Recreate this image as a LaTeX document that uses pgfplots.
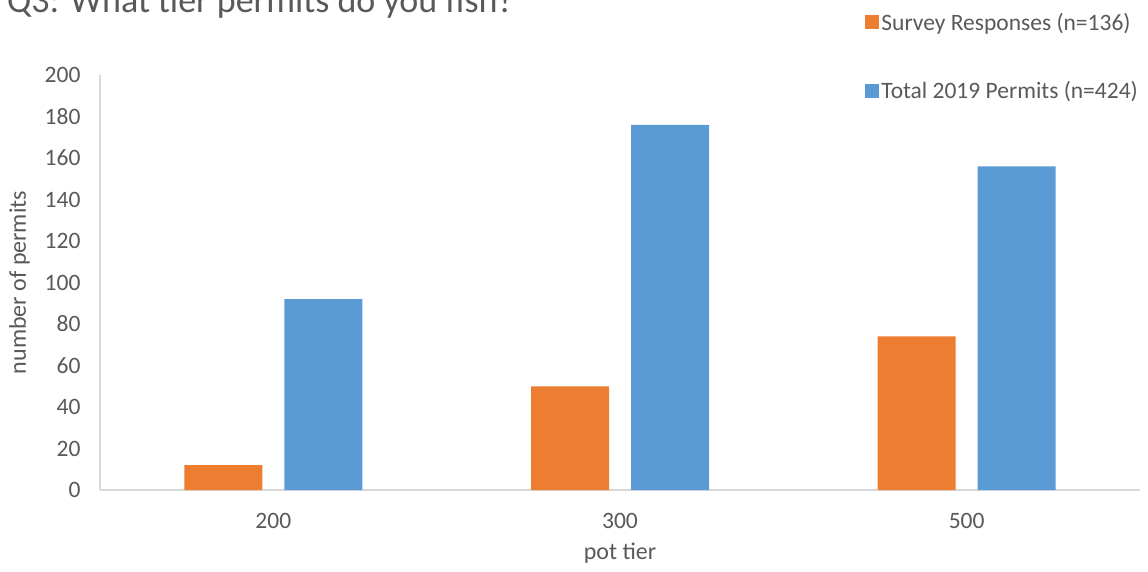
\documentclass[border=0pt]{standalone}
\usepackage{pgfplots}
\pgfplotsset{compat=1.18}
\usepackage{fontspec}
\setmainfont{Carlito}
\definecolor{corange}{HTML}{ED7D31}
\definecolor{cblue}{HTML}{5B9BD5}
\definecolor{ctext}{HTML}{595959}
\definecolor{caxis}{HTML}{D9D9D9}
\begin{document}
\begin{tikzpicture}
\clip (-100pt,-81pt) rectangle (1048pt,490pt);
\node[anchor=base west, text=ctext, font=\fontsize{36}{40}\selectfont, inner sep=0pt] at (-93pt,477pt) {Q3: What tier permits do you fish?};
\begin{axis}[
  at={(0pt,0pt)}, anchor=south west,
  scale only axis, width=1040pt, height=415pt,
  ybar=22pt, bar width=78pt,
  xmin=-0.5, xmax=2.5, ymin=0, ymax=200,
  xtick={0,1,2}, xticklabels={200,300,500},
  ytick={0,20,...,200},
  axis x line*=bottom, axis y line*=left,
  axis line style={draw=caxis, line width=1.2pt, -},
  major tick length=0pt,
  tick label style={text=ctext, font=\fontsize{23.5}{28}\selectfont},
  /pgf/number format/assume math mode=true,
  yticklabel style={xshift=-16pt},
  xticklabel style={yshift=-20pt},
  xlabel={pot tier}, ylabel={number of permits},
  label style={text=ctext, font=\fontsize{24}{28}\selectfont},
  xlabel shift=7pt,
  ylabel shift=8pt,
  legend style={draw=none, fill=none, at={(1.0,1.155)}, anchor=north east, row sep=46pt,
    font=\fontsize{23.5}{28}\selectfont, text=ctext, inner sep=0pt,
    /tikz/every even column/.append style={column sep=0pt}},
  legend cell align=left,
  legend image code/.code={\fill[#1] (0pt,-7pt) rectangle (14pt,7pt);},
]
\addplot[fill=corange, draw=none] coordinates {(0,12) (1,50) (2,74)};
\addplot[fill=cblue, draw=none] coordinates {(0,92) (1,176) (2,156)};
\legend{Survey Responses (n=136), Total 2019 Permits (n=424)}
\end{axis}
\end{tikzpicture}
\end{document}
